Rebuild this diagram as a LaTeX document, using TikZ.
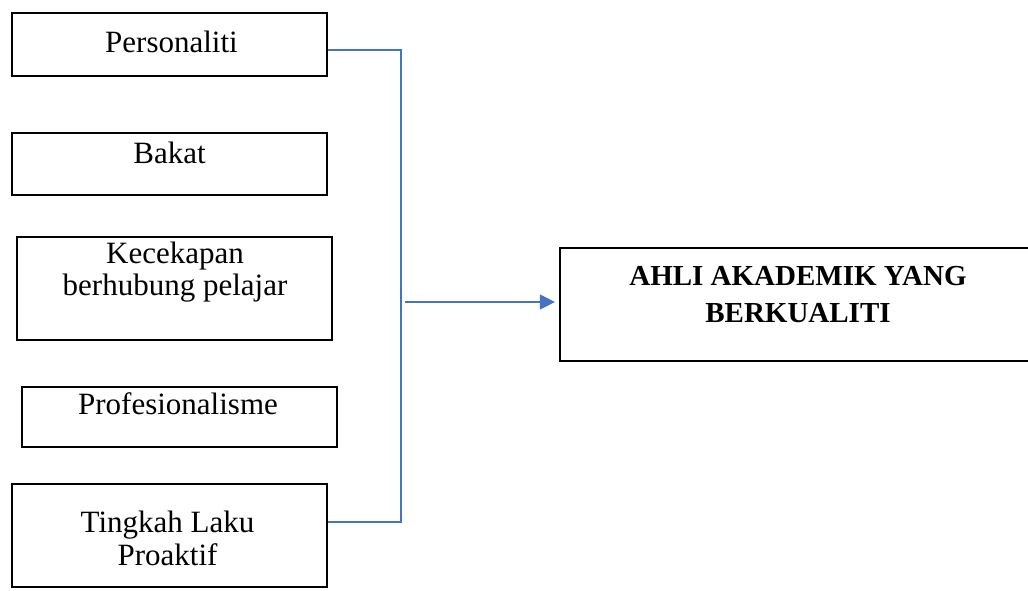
\documentclass[tikz,border=0pt]{standalone}
\usepackage{fontspec}
\setmainfont{Liberation Serif}
\usetikzlibrary{arrows.meta}
\definecolor{connblue}{HTML}{4472C4}
\begin{document}
\begin{tikzpicture}[x=1pt,y=-1pt,
 box/.style={draw=black,line width=1.9pt,rectangle,minimum width=315pt,inner sep=0pt},
 thickbox/.style={box,line width=2.9pt},
 lbl/.style={anchor=base,inner sep=0pt,font=\fontsize{31}{32}\selectfont},
 conn/.style={draw=connblue,line width=1.5pt}]
\clip (0,0) rectangle (1028,590);
\fill[white] (0,0) rectangle (1028,590);
% boxes
\node[thickbox,minimum height=63pt] (pers) at (169.5,44.5) {};
\node[box,minimum height=62pt] (bakat) at (169.5,164) {};
\node[box,minimum height=103pt] (kec) at (174.5,288.5) {};
\node[box,minimum height=60pt] (prof) at (179.5,417) {};
\node[thickbox,minimum height=103pt] (ting) at (169.5,535.5) {};
\node[box,line width=2.2pt,minimum width=480pt,minimum height=113pt] (ahli) at (800,304.5) {};
% labels
\node[lbl] (tpers) at (171.5,52) {Personaliti};
\node[lbl] (tbakat) at (169.5,163) {Bakat};
\node[lbl] (tkec) at (175,263) {\begin{tabular}[t]{@{}c@{}}Kecekapan\\berhubung pelajar\end{tabular}};
\node[lbl] (tprof) at (178,414) {Profesionalisme};
\node[lbl,font=\fontsize{31}{33}\selectfont] (tting) at (167.5,532) {\begin{tabular}[t]{@{}c@{}}Tingkah Laku\\Proaktif\end{tabular}};
\node[lbl,font=\fontsize{29}{37}\selectfont\bfseries] (tahli) at (798,285) {\begin{tabular}[t]{@{}c@{}}AHLI AKADEMIK YANG\\BERKUALITI\end{tabular}};
% connectors
\coordinate (bus) at (401,302);
\coordinate (jn) at (405,302);
\draw[conn] ([yshift=-5.5pt]pers.east) -| (bus) |- ([yshift=13.5pt]ting.east);
\draw[conn,line width=1.2pt,-{Triangle[length=15pt,width=15pt]},shorten >=4pt] (jn) -- (ahli.west |- jn);
\end{tikzpicture}
\end{document}
